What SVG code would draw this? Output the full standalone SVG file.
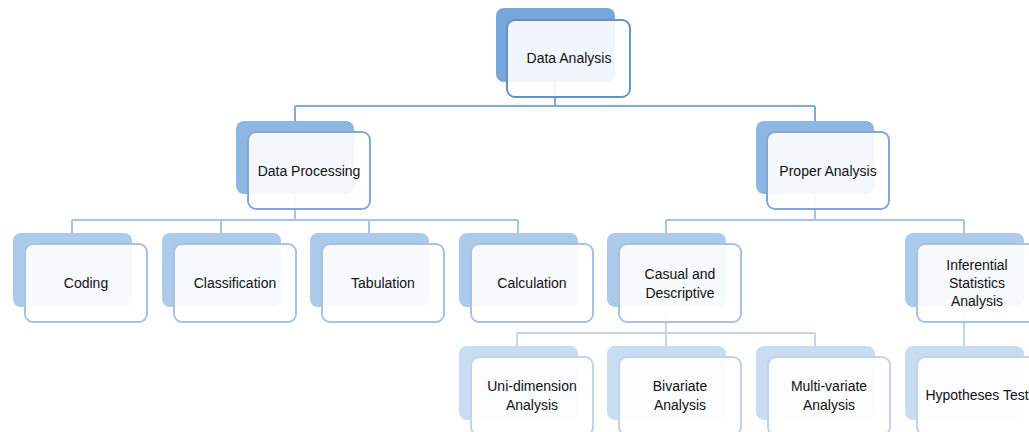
<svg xmlns="http://www.w3.org/2000/svg" width="1029" height="432" viewBox="0 0 1029 432">
<style>
.back{stroke:none}
.front{fill:#ffffff;fill-opacity:0.9;stroke-width:2}
.l1 .back{fill:#76a6da}.l1 .front{stroke:#5f93cd}
.l2 .back{fill:#8db6e1}.l2 .front{stroke:#7ea8dc}
.l3 .back{fill:#adcaea}.l3 .front{stroke:#a4c3e6}
.l4 .back{fill:#cadcf1}.l4 .front{stroke:#bdd3ee}
text{font-family:"Liberation Sans",Arial,sans-serif;font-size:14px;fill:#111;text-anchor:middle}
.c1{stroke:#80aadc;stroke-width:2;fill:none}
.c2{stroke:#a6c4e7;stroke-width:2;fill:none}
.c3{stroke:#c3d7ef;stroke-width:2;fill:none}
</style>
<rect width="1029" height="432" fill="#ffffff"/>
<g id="connectors">
<path class="c1" d="M555 82V106M295 106H815M295 106V121M815 106V121"/>
<path class="c2" d="M295 194V220M72 220H518M72 220V233M221 220V233M369 220V233M518 220V233"/>
<path class="c2" d="M815 194V220M666 220H964M666 220V233M964 220V233"/>
<path class="c3" d="M666 307V333M517 333H815M517 333V346M666 333V346M815 333V346M964 307V346"/>
</g>
<g id="n-data-analysis" class="l1">
<rect class="back" x="496" y="8" width="119" height="74" rx="8"/>
<rect class="front" x="507" y="20" width="123" height="77" rx="8"/>
<text x="569" y="63">Data Analysis</text>
</g>
<g id="n-data-processing" class="l2">
<rect class="back" x="236" y="121" width="118" height="73" rx="8"/>
<rect class="front" x="248" y="132" width="122" height="77" rx="8"/>
<text x="309" y="176">Data Processing</text>
</g>
<g id="n-proper-analysis" class="l2">
<rect class="back" x="756" y="121" width="118" height="73" rx="8"/>
<rect class="front" x="767" y="132" width="122" height="77" rx="8"/>
<text x="828" y="176">Proper Analysis</text>
</g>
<g id="n-coding" class="l3">
<rect class="back" x="13" y="233" width="119" height="74" rx="8"/>
<rect class="front" x="25" y="244" width="122" height="78" rx="8"/>
<text x="86" y="288">Coding</text>
</g>
<g id="n-classification" class="l3">
<rect class="back" x="162" y="233" width="119" height="74" rx="8"/>
<rect class="front" x="174" y="244" width="122" height="78" rx="8"/>
<text x="235" y="288">Classification</text>
</g>
<g id="n-tabulation" class="l3">
<rect class="back" x="310" y="233" width="119" height="74" rx="8"/>
<rect class="front" x="322" y="244" width="122" height="78" rx="8"/>
<text x="383" y="288">Tabulation</text>
</g>
<g id="n-calculation" class="l3">
<rect class="back" x="459" y="233" width="119" height="74" rx="8"/>
<rect class="front" x="471" y="244" width="122" height="78" rx="8"/>
<text x="532" y="288">Calculation</text>
</g>
<g id="n-casual" class="l3">
<rect class="back" x="607" y="233" width="119" height="74" rx="8"/>
<rect class="front" x="619" y="244" width="122" height="78" rx="8"/>
<text x="680" y="279">Casual and</text>
<text x="680" y="298">Descriptive</text>
</g>
<g id="n-inferential" class="l3">
<rect class="back" x="905" y="233" width="119" height="74" rx="8"/>
<rect class="front" x="917" y="244" width="122" height="78" rx="8"/>
<text x="977" y="270">Inferential</text>
<text x="977" y="288">Statistics</text>
<text x="977" y="306">Analysis</text>
</g>
<g id="n-uni" class="l4">
<rect class="back" x="459" y="346" width="119" height="74" rx="8"/>
<rect class="front" x="471" y="357" width="122" height="78" rx="8"/>
<text x="532" y="391">Uni-dimension</text>
<text x="532" y="410">Analysis</text>
</g>
<g id="n-bivariate" class="l4">
<rect class="back" x="607" y="346" width="119" height="74" rx="8"/>
<rect class="front" x="619" y="357" width="122" height="78" rx="8"/>
<text x="680" y="391">Bivariate</text>
<text x="680" y="410">Analysis</text>
</g>
<g id="n-multivariate" class="l4">
<rect class="back" x="756" y="346" width="119" height="74" rx="8"/>
<rect class="front" x="768" y="357" width="122" height="78" rx="8"/>
<text x="829" y="391">Multi-variate</text>
<text x="829" y="410">Analysis</text>
</g>
<g id="n-hypotheses" class="l4">
<rect class="back" x="905" y="346" width="119" height="74" rx="8"/>
<rect class="front" x="917" y="357" width="122" height="78" rx="8"/>
<text x="977" y="400">Hypotheses Test</text>
</g>
</svg>
